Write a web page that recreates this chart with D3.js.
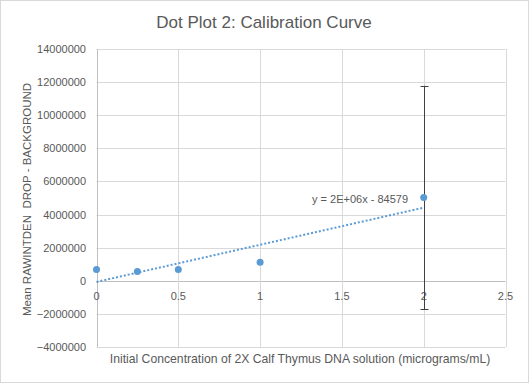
<!DOCTYPE html>
<html><head><meta charset="utf-8">
<script src="https://cdn.jsdelivr.net/npm/d3@7/dist/d3.min.js"></script>
<style>body{margin:0;background:#fff}svg{display:block}text{font-family:"Liberation Sans",Arial,sans-serif}</style>
</head><body><svg id="c" width="529" height="383"></svg>
<script>
const xValues = [0, 0.25, 0.5, 1, 2];
const yValues = [680000, 560000, 680000, 1120000, 5030000];
const yErrors = [0, 0, 0, 0, 6750000];
const xTicks = [0, 0.5, 1, 1.5, 2, 2.5];
const yTicks = [-4000000, -2000000, 0, 2000000, 4000000, 6000000, 8000000, 10000000, 12000000, 14000000];
const title = "Dot Plot 2: Calibration Curve";
const xTitle = "Initial Concentration of 2X Calf Thymus DNA solution (micrograms/mL)";
const yTitle = "Mean RAWINTDEN  DROP - BACKGROUND";
const eqLabel = "y = 2E+06x - 84579";

const W = 529, H = 383;
const svg = d3.select("#c");
svg.append("rect").attr("x",0.5).attr("y",0.5).attr("width",W-1).attr("height",H-1)
  .attr("fill","#fff").attr("stroke","#d9d9d9");

const x = d3.scaleLinear().domain([0, 2.5]).range([96.5, 505.5]);
const y = d3.scaleLinear().domain([-4000000, 14000000]).range([347, 49]);

// gridlines
svg.append("g").selectAll("line").data(yTicks).join("line")
  .attr("x1", x(0)).attr("x2", x(2.5)).attr("y1", d=>Math.round(y(d))+0.5).attr("y2", d=>Math.round(y(d))+0.5)
  .attr("stroke", d=> d===0 ? "#bfbfbf" : "#d9d9d9").attr("stroke-width",1);
svg.append("g").selectAll("line").data(xTicks).join("line")
  .attr("y1", y(-4000000)).attr("y2", y(14000000)).attr("x1", d=>Math.round(x(d))+0.5).attr("x2", d=>Math.round(x(d))+0.5)
  .attr("stroke", d=> d===0 ? "#bfbfbf" : "#d9d9d9").attr("stroke-width",1);

// tick labels
svg.append("g").selectAll("text").data(yTicks).join("text")
  .attr("x", 86).attr("y", d=>y(d)+4).attr("text-anchor","end")
  .attr("font-size","11px").attr("fill","#595959").text(d=>d3.format("d")(d));
svg.append("g").selectAll("text").data(xTicks).join("text")
  .attr("x", d=>x(d)).attr("y", y(0)+19).attr("text-anchor","middle")
  .attr("font-size","11px").attr("fill","#595959").text(d=>d);

// trendline (least squares)
const mx = d3.mean(xValues), my = d3.mean(yValues);
const slope = d3.sum(xValues.map((v,i)=>(v-mx)*(yValues[i]-my))) / d3.sum(xValues.map(v=>(v-mx)**2));
const icpt = my - slope*mx;
const xr = d3.extent(xValues);
svg.append("line").attr("x1", x(xr[0])).attr("y1", y(slope*xr[0]+icpt))
  .attr("x2", x(xr[1])).attr("y2", y(slope*xr[1]+icpt))
  .attr("stroke","#5b9bd5").attr("stroke-width",2).attr("stroke-dasharray","2,2");

// error bars
const eb = svg.append("g");
xValues.forEach((v,i)=>{
  const e = yErrors[i]; if(!e) return;
  const cx = Math.round(x(v))+0.5;
  eb.append("line").attr("x1",cx).attr("x2",cx).attr("y1",y(yValues[i]+e)).attr("y2",y(yValues[i]-e)).attr("stroke","#404040");
  [yValues[i]+e, yValues[i]-e].forEach(t=>{
    eb.append("line").attr("x1",cx-4).attr("x2",cx+4).attr("y1",Math.round(y(t))+0.5).attr("y2",Math.round(y(t))+0.5).attr("stroke","#404040");
  });
});

// points
svg.append("g").selectAll("circle").data(xValues).join("circle")
  .attr("cx", d=>x(d)).attr("cy", (d,i)=>y(yValues[i])).attr("r",3.5).attr("fill","#5b9bd5");

// equation
svg.append("text").attr("x", 312).attr("y", 203).attr("font-size","11px").attr("fill","#595959").text(eqLabel);

// titles
svg.append("text").attr("x", 264).attr("y", 28).attr("text-anchor","middle")
  .attr("font-size","17px").attr("fill","#595959").text(title);
svg.append("text").attr("x", 300).attr("y", 363).attr("text-anchor","middle")
  .attr("font-size","12.2px").attr("fill","#595959").text(xTitle);
svg.append("text").attr("transform","translate(31,199.5) rotate(-90)").attr("text-anchor","middle")
  .style("white-space","pre")
  .attr("font-size","11.5px").attr("fill","#595959").text(yTitle);
</script></body></html>
